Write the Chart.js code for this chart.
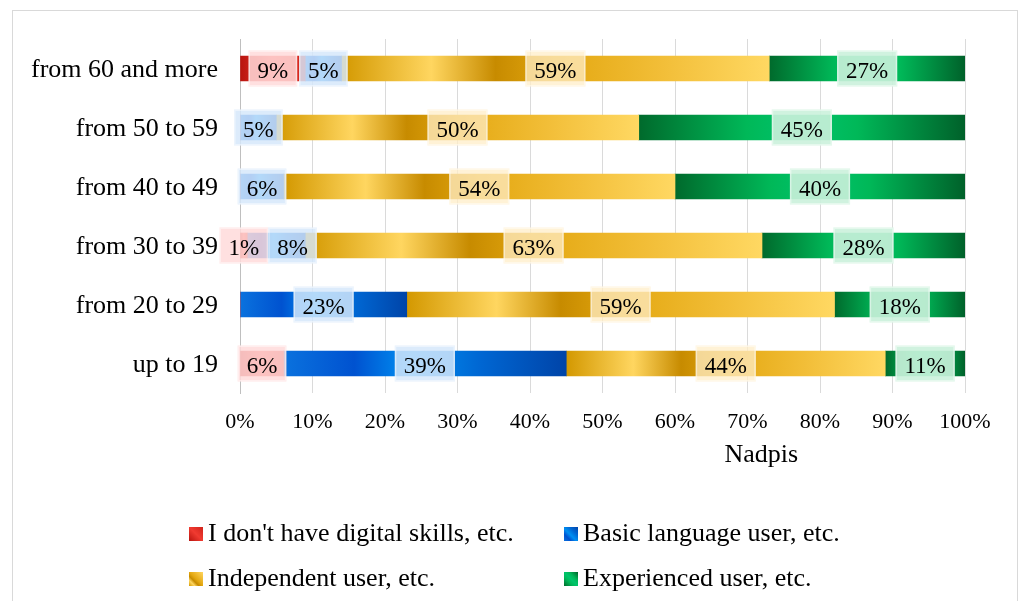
<!DOCTYPE html>
<html>
<head>
<meta charset="utf-8">
<title>Digital skills by age group</title>
<script src="https://cdn.jsdelivr.net/npm/chart.js@4.4.1/dist/chart.umd.min.js"></script>
<style>
  html, body { margin: 0; padding: 0; background: #ffffff; }
  canvas { display: block; }
</style>
</head>
<body>
<canvas id="skills" width="1021" height="601"></canvas>
<script>
// ---- data ----
const ageGroups = ['from 60 and more', 'from 50 to 59', 'from 40 to 49', 'from 30 to 39', 'from 20 to 29', 'up to 19'];
const noSkills        = [9, 0, 0, 1, 0, 6];
const basicUser       = [5, 5, 6, 8, 23, 39];
const independentUser = [59, 50, 54, 63, 59, 44];
const experiencedUser = [27, 45, 40, 28, 18, 11];
const seriesNames = ["I don't have digital skills, etc.", 'Basic language user, etc.', 'Independent user, etc.', 'Experienced user, etc.'];
const percentTicks = ['0%', '10%', '20%', '30%', '40%', '50%', '60%', '70%', '80%', '90%', '100%'];
const axisTitle = 'Nadpis';

// ---- styles ----
const SERIF = '"Liberation Serif", "Times New Roman", "DejaVu Serif", serif';
const palettes = [
  { flat: '#E02A20', box: 'rgba(255,218,218,0.85)',
    stops: [[0, '#B8140F'], [0.5, '#F03A30'], [1, '#D0241B']] },
  { flat: '#0068D8', box: 'rgba(213,231,250,0.84)',
    stops: [[0, '#0A72DE'], [0.25, '#0052D0'], [0.45, '#0090F2'], [0.7, '#0066D2'], [1, '#0044A8']] },
  { flat: '#EDB22A', box: 'rgba(255,238,200,0.75)',
    stops: [[0, '#D39800'], [0.21, '#FFD660'], [0.36, '#C78B00'], [0.5, '#E3A710'], [0.75, '#F2BE38'], [1, '#FFD862']] },
  { flat: '#00A050', box: 'rgba(203,241,220,0.9)',
    stops: [[0, '#006A2C'], [0.33, '#00B858'], [0.5, '#00C46C'], [0.67, '#00B858'], [1, '#00612A']] }
];

// gradient across each individual bar segment
function segmentFill(idx) {
  return (ctx) => {
    const pal = palettes[idx];
    if (ctx.type !== 'data') return pal.flat;
    const chart = ctx.chart;
    const xs = chart.scales.x;
    if (!xs) return pal.flat;
    const ds = chart.data.datasets;
    let start = 0;
    for (let d = 0; d < ctx.datasetIndex; d++) start += ds[d].data[ctx.dataIndex];
    const end = start + ds[ctx.datasetIndex].data[ctx.dataIndex];
    const x0 = xs.getPixelForValue(start);
    const x1 = xs.getPixelForValue(end);
    if (!(x1 - x0 > 0.5)) return pal.flat;
    const g = chart.ctx.createLinearGradient(x0, 0, x1, 0);
    pal.stops.forEach(([o, c]) => g.addColorStop(o, c));
    return g;
  };
}

// outer frame of the chart
const frame = {
  id: 'frame',
  beforeDraw(chart) {
    const c = chart.ctx;
    c.save();
    c.fillStyle = '#ffffff';
    c.fillRect(0, 0, chart.width, chart.height);
    c.strokeStyle = '#D9D9D9';
    c.lineWidth = 1;
    c.strokeRect(12.5, 10.5, 1005, 600);
    c.restore();
  }
};

// value labels in tinted boxes; boxes in a row are pushed right so they never overlap
const valueLabels = {
  id: 'valueLabels',
  afterDatasetsDraw(chart) {
    const c = chart.ctx;
    c.save();
    c.font = '23px ' + SERIF;
    c.textAlign = 'center';
    c.textBaseline = 'alphabetic';
    const boxH = 36;
    for (let r = 0; r < chart.data.labels.length; r++) {
      let prevRight = -Infinity;
      chart.data.datasets.forEach((ds, d) => {
        const v = ds.data[r];
        if (!v) return;
        const el = chart.getDatasetMeta(d).data[r];
        const text = v + '%';
        const w = c.measureText(text).width + 18;
        let left = (el.x + el.base) / 2 - w / 2;
        if (left < prevRight) left = prevRight;
        prevRight = left + w;
        const top = el.y - boxH / 2;
        c.fillStyle = palettes[d].box;
        c.fillRect(left, top, w, boxH);
        c.strokeStyle = 'rgba(255,255,255,0.45)';
        c.lineWidth = 1.5;
        c.strokeRect(left + 0.75, top + 0.75, w - 1.5, boxH - 1.5);
        c.fillStyle = '#000000';
        c.fillText(text, left + w / 2, el.y + 9);
      });
    }
    c.restore();
  }
};

// axis title and two-column legend below the plot
const titleAndLegend = {
  id: 'titleAndLegend',
  afterDraw(chart) {
    const c = chart.ctx;
    const area = chart.chartArea;
    c.save();
    c.fillStyle = '#000000';
    c.font = '26px ' + SERIF;
    c.textAlign = 'center';
    c.textBaseline = 'alphabetic';
    c.fillText(axisTitle, area.left + area.width * 0.719, 462);

    const cols = [189, 564];
    const rows = [541, 586];
    const sw = 14;
    c.textAlign = 'left';
    chart.data.datasets.forEach((ds, i) => {
      const x = cols[i % 2];
      const base = rows[Math.floor(i / 2)];
      const y = base - sw;
      const g = c.createLinearGradient(x, y + sw, x + sw, y);
      palettes[i].stops.forEach(([o, col]) => g.addColorStop(o, col));
      c.fillStyle = g;
      c.fillRect(x, y, sw, sw);
      c.fillStyle = '#000000';
      c.fillText(ds.label, x + 19, base);
    });
    c.restore();
  }
};

const seriesValues = [noSkills, basicUser, independentUser, experiencedUser];

new Chart(document.getElementById('skills'), {
  type: 'bar',
  data: {
    labels: ageGroups,
    datasets: seriesValues.map((vals, i) => ({
      label: seriesNames[i],
      data: vals,
      backgroundColor: segmentFill(i),
      borderWidth: 0,
      barThickness: 25
    }))
  },
  options: {
    indexAxis: 'y',
    responsive: false,
    devicePixelRatio: 1,
    animation: false,
    layout: { padding: { top: 39, right: 56, bottom: 168, left: 0 } },
    plugins: {
      legend: { display: false },
      tooltip: { enabled: false },
      title: { display: false }
    },
    scales: {
      x: {
        stacked: true,
        min: 0,
        max: 100,
        ticks: {
          stepSize: 10,
          autoSkip: false,
          maxRotation: 0,
          padding: 16,
          color: '#000000',
          font: { family: SERIF, size: 22 },
          callback: (v, i) => percentTicks[i]
        },
        grid: {
          color: (ctx) => (ctx.index === 0 ? 'rgba(0,0,0,0)' : '#DADADA'),
          lineWidth: 1,
          drawTicks: false
        },
        border: { display: false },
        afterFit: (s) => { s.height = 40; }
      },
      y: {
        stacked: true,
        grid: { display: false, drawTicks: false },
        border: { display: true, color: '#BFBFBF', width: 1 },
        ticks: {
          padding: 22,
          labelOffset: 2,
          color: '#000000',
          font: { family: SERIF, size: 26 }
        },
        afterFit: (s) => { s.width = 240; }
      }
    }
  },
  plugins: [frame, valueLabels, titleAndLegend]
});
</script>
</body>
</html>
